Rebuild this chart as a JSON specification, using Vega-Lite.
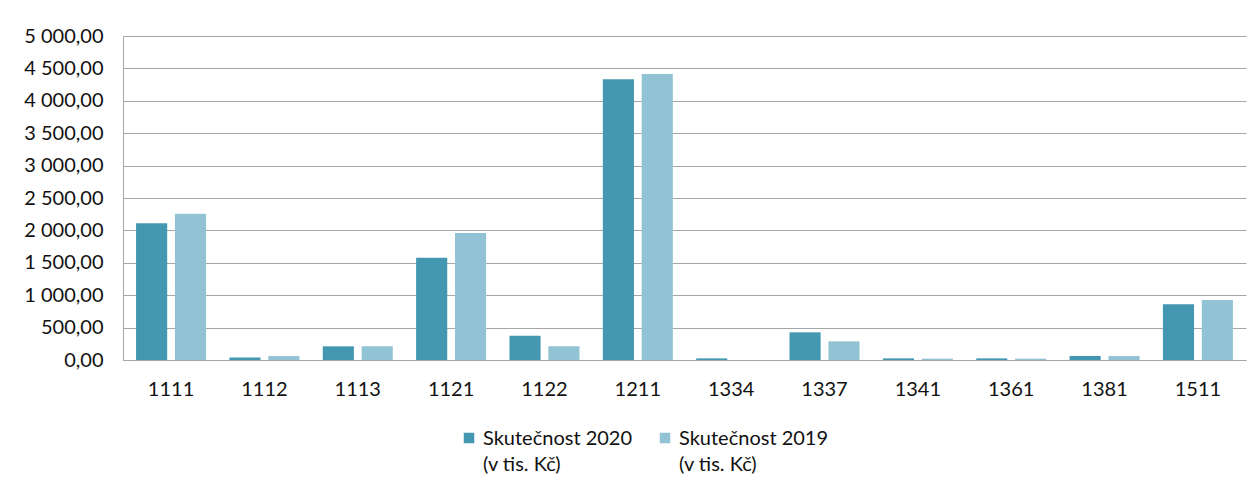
{
  "$schema": "https://vega.github.io/schema/vega-lite/v6.json",
  "autosize": {"type": "none"},
  "width": 1123,
  "height": 324,
  "padding": {"left": 123, "top": 36, "right": 14, "bottom": 131},
  "background": "white",
  "config": {
    "locale": {"number": {"decimal": ",", "thousands": " ", "grouping": [3], "currency": ["", " Kč"]}},
    "view": {"stroke": null},
    "font": "Lato",
    "axis": {"labelFont": "Lato", "labelFontSize": 20, "labelColor": "#111111", "ticks": false, "domainColor": "#A6A6A6", "gridColor": "#A6A6A6", "gridWidth": 1.2},
    "legend": {"labelFont": "Lato", "labelFontSize": 20, "labelColor": "#111111"}
  },
  "data": {
    "values": [
      {"kod": "1111", "rada": "Skutečnost 2020|(v tis. Kč)", "hodnota": 2109},
      {"kod": "1111", "rada": "Skutečnost 2019|(v tis. Kč)", "hodnota": 2257},
      {"kod": "1112", "rada": "Skutečnost 2020|(v tis. Kč)", "hodnota": 40},
      {"kod": "1112", "rada": "Skutečnost 2019|(v tis. Kč)", "hodnota": 60},
      {"kod": "1113", "rada": "Skutečnost 2020|(v tis. Kč)", "hodnota": 211},
      {"kod": "1113", "rada": "Skutečnost 2019|(v tis. Kč)", "hodnota": 211},
      {"kod": "1121", "rada": "Skutečnost 2020|(v tis. Kč)", "hodnota": 1579},
      {"kod": "1121", "rada": "Skutečnost 2019|(v tis. Kč)", "hodnota": 1960},
      {"kod": "1122", "rada": "Skutečnost 2020|(v tis. Kč)", "hodnota": 375},
      {"kod": "1122", "rada": "Skutečnost 2019|(v tis. Kč)", "hodnota": 211},
      {"kod": "1211", "rada": "Skutečnost 2020|(v tis. Kč)", "hodnota": 4331},
      {"kod": "1211", "rada": "Skutečnost 2019|(v tis. Kč)", "hodnota": 4413},
      {"kod": "1334", "rada": "Skutečnost 2020|(v tis. Kč)", "hodnota": 25},
      {"kod": "1334", "rada": "Skutečnost 2019|(v tis. Kč)", "hodnota": 0},
      {"kod": "1337", "rada": "Skutečnost 2020|(v tis. Kč)", "hodnota": 427},
      {"kod": "1337", "rada": "Skutečnost 2019|(v tis. Kč)", "hodnota": 288},
      {"kod": "1341", "rada": "Skutečnost 2020|(v tis. Kč)", "hodnota": 25},
      {"kod": "1341", "rada": "Skutečnost 2019|(v tis. Kč)", "hodnota": 20},
      {"kod": "1361", "rada": "Skutečnost 2020|(v tis. Kč)", "hodnota": 25},
      {"kod": "1361", "rada": "Skutečnost 2019|(v tis. Kč)", "hodnota": 20},
      {"kod": "1381", "rada": "Skutečnost 2020|(v tis. Kč)", "hodnota": 62},
      {"kod": "1381", "rada": "Skutečnost 2019|(v tis. Kč)", "hodnota": 60},
      {"kod": "1511", "rada": "Skutečnost 2020|(v tis. Kč)", "hodnota": 859},
      {"kod": "1511", "rada": "Skutečnost 2019|(v tis. Kč)", "hodnota": 926}
    ]
  },
  "mark": {"type": "bar"},
  "encoding": {
    "x": {
      "field": "kod", "type": "nominal", "sort": null,
      "scale": {"paddingInner": 0.25, "paddingOuter": 0.14},
      "axis": {"title": null, "labelAngle": 0, "labelPadding": 19, "domain": true, "grid": false}
    },
    "xOffset": {
      "field": "rada", "type": "nominal",
      "scale": {"domain": ["Skutečnost 2020|(v tis. Kč)", "Skutečnost 2019|(v tis. Kč)"], "paddingInner": 0.2}
    },
    "y": {
      "field": "hodnota", "type": "quantitative",
      "scale": {"domain": [0, 5000], "nice": false},
      "axis": {"title": null, "values": [0, 500, 1000, 1500, 2000, 2500, 3000, 3500, 4000, 4500, 5000], "format": ",.2f", "labelPadding": 20, "domain": true, "grid": true}
    },
    "color": {
      "field": "rada", "type": "nominal",
      "scale": {"domain": ["Skutečnost 2020|(v tis. Kč)", "Skutečnost 2019|(v tis. Kč)"], "range": ["#4397B0", "#92C3D5"]},
      "legend": {
        "title": null, "orient": "none", "direction": "horizontal",
        "legendX": 336, "legendY": 392,
        "symbolType": "square", "symbolSize": 110, "symbolStrokeWidth": 0,
        "labelExpr": "split(datum.label, '|')",
        "labelBaseline": "alphabetic",
        "columnPadding": 22, "labelLimit": 300,
        "encode": {"labels": {"update": {"dy": {"value": 7}, "lineHeight": {"value": 26}}}}
      }
    }
  }
}
